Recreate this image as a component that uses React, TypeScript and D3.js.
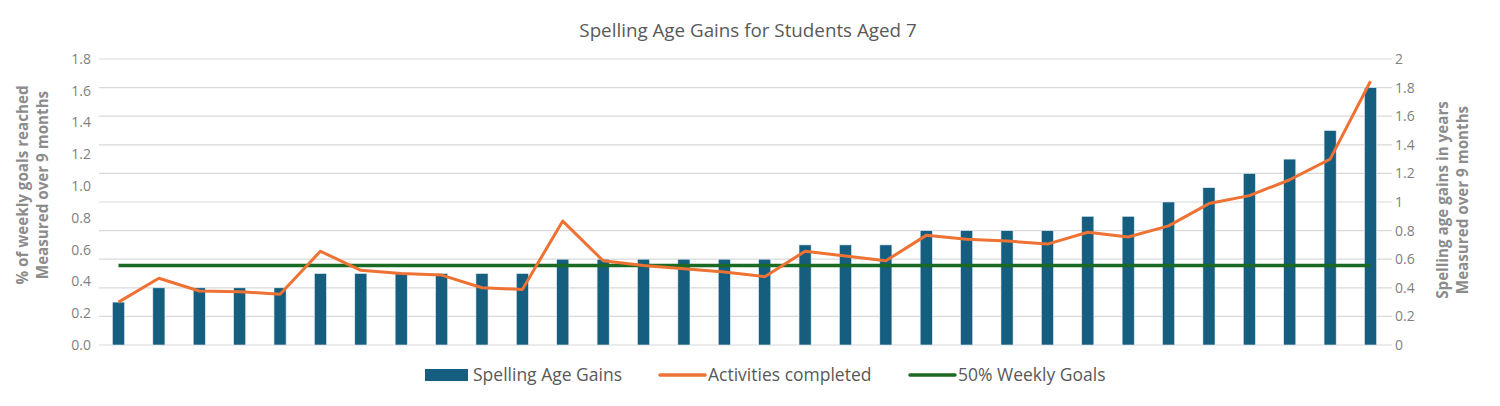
import * as d3 from "d3";

const students = [
  "S01", "S02", "S03", "S04", "S05", "S06", "S07", "S08",
  "S09", "S10", "S11", "S12", "S13", "S14", "S15", "S16",
  "S17", "S18", "S19", "S20", "S21", "S22", "S23", "S24",
  "S25", "S26", "S27", "S28", "S29", "S30", "S31", "S32",
];

// spelling age gain in years (right axis)
const ageGains = [
  0.3, 0.4, 0.4, 0.4, 0.4, 0.5, 0.5, 0.5, 0.5, 0.5, 0.5, 0.6, 0.6, 0.6, 0.6, 0.6,
  0.6, 0.7, 0.7, 0.7, 0.8, 0.8, 0.8, 0.8, 0.9, 0.9, 1.0, 1.1, 1.2, 1.3, 1.5, 1.8,
];

// share of weekly goals reached (left axis)
const activities = [
  0.27, 0.42, 0.34, 0.335, 0.32, 0.59, 0.47, 0.45, 0.44, 0.36, 0.35, 0.78, 0.53, 0.5, 0.48, 0.46,
  0.43, 0.59, 0.56, 0.53, 0.69, 0.665, 0.655, 0.635, 0.71, 0.68, 0.75, 0.89, 0.94, 1.04, 1.17, 1.66,
];

const weeklyGoal = 0.5;

const leftTicks = [0, 0.2, 0.4, 0.6, 0.8, 1.0, 1.2, 1.4, 1.6, 1.8];
const rightTicks = [0, 0.2, 0.4, 0.6, 0.8, 1, 1.2, 1.4, 1.6, 1.8, 2];

const legendItems = [
  { label: "Spelling Age Gains", kind: "bar", x: 425 },
  { label: "Activities completed", kind: "orange", x: 660 },
  { label: "50% Weekly Goals", kind: "green", x: 910 },
];

const W = 1500;
const H = 406;
const BLUE = "#155e80";
const ORANGE = "#ee7233";
const GREEN = "#1b6a23";
const GRID = "#d9d9d9";
const TEXT = "#7f7f7f";
const FONT = "'Open Sans', 'Noto Sans', sans-serif";

export default function App() {
  const x = d3
    .scaleBand<string>()
    .domain(students)
    .range([98.3, 1390.7])
    .paddingInner(0.7)
    .paddingOuter(0.35);
  const cx = (s: string) => (x(s) ?? 0) + x.bandwidth() / 2;

  const yLeft = d3.scaleLinear().domain([0, 1.8]).range([345, 59]);
  const yRight = d3.scaleLinear().domain([0, 2]).range([345, 59]);

  const line = d3
    .line<number>()
    .x((_, i) => cx(students[i]))
    .y((d) => yLeft(d));

  const fmtRight = (d: number) => String(+d.toFixed(1));

  return (
    <div style={{ position: "absolute", left: 0, top: 0 }}>
      <svg width={W} height={H} style={{ display: "block", background: "#fff" }} fontFamily={FONT}>
        <text x={748} y={37} textAnchor="middle" fontSize={18.8} fill="#595959">
          Spelling Age Gains for Students Aged 7
        </text>

        {/* gridlines follow the secondary axis */}
        {rightTicks.map((t) => (
          <line key={t} x1={99} x2={1392} y1={yRight(t)} y2={yRight(t)} stroke={GRID} strokeWidth={1.2} />
        ))}

        {leftTicks.map((t) => (
          <text key={t} x={91} y={yLeft(t)} dy="0.35em" textAnchor="end" fontSize={14} fill={TEXT}>
            {d3.format(".1f")(t)}
          </text>
        ))}
        {rightTicks.map((t) => (
          <text key={t} x={1395} y={yRight(t)} dy="0.35em" fontSize={14} fill={TEXT}>
            {fmtRight(t)}
          </text>
        ))}

        <g transform="translate(33,185) rotate(-90)" fontSize={15.2} fontWeight={700} fill="#8c8c8c" textAnchor="middle">
          <text y={-5}>% of weekly goals reached</text>
          <text y={15}>Measured over 9 months</text>
        </g>
        <g transform="translate(1453,200) rotate(-90)" fontSize={15.2} fontWeight={700} fill="#8c8c8c" textAnchor="middle">
          <text y={-5}>Spelling age gains in years</text>
          <text y={15}>Measured over 9 months</text>
        </g>

        {ageGains.map((v, i) => (
          <rect
            key={students[i]}
            x={x(students[i])}
            y={yRight(v)}
            width={x.bandwidth()}
            height={yRight(0) - yRight(v)}
            fill={BLUE}
            stroke="#e6eef2"
            strokeWidth={0.6}
          />
        ))}

        <line
          x1={cx(students[0])}
          x2={cx(students[students.length - 1])}
          y1={yLeft(weeklyGoal)}
          y2={yLeft(weeklyGoal)}
          stroke={GREEN}
          strokeWidth={3.5}
        />

        <path d={line(activities) ?? ""} fill="none" stroke={ORANGE} strokeWidth={3} strokeLinejoin="round" />

        {legendItems.map((it) => (
          <g key={it.label}>
            {it.kind === "bar" ? (
              <rect x={it.x} y={369} width={43} height={12} fill={BLUE} />
            ) : (
              <line
                x1={it.x}
                x2={it.x + 45}
                y1={375}
                y2={375}
                stroke={it.kind === "orange" ? ORANGE : GREEN}
                strokeWidth={3.5}
                strokeLinecap="round"
              />
            )}
            <text x={it.x + 48} y={381} fontSize={17.5} fill="#595959">
              {it.label}
            </text>
          </g>
        ))}
      </svg>
    </div>
  );
}
